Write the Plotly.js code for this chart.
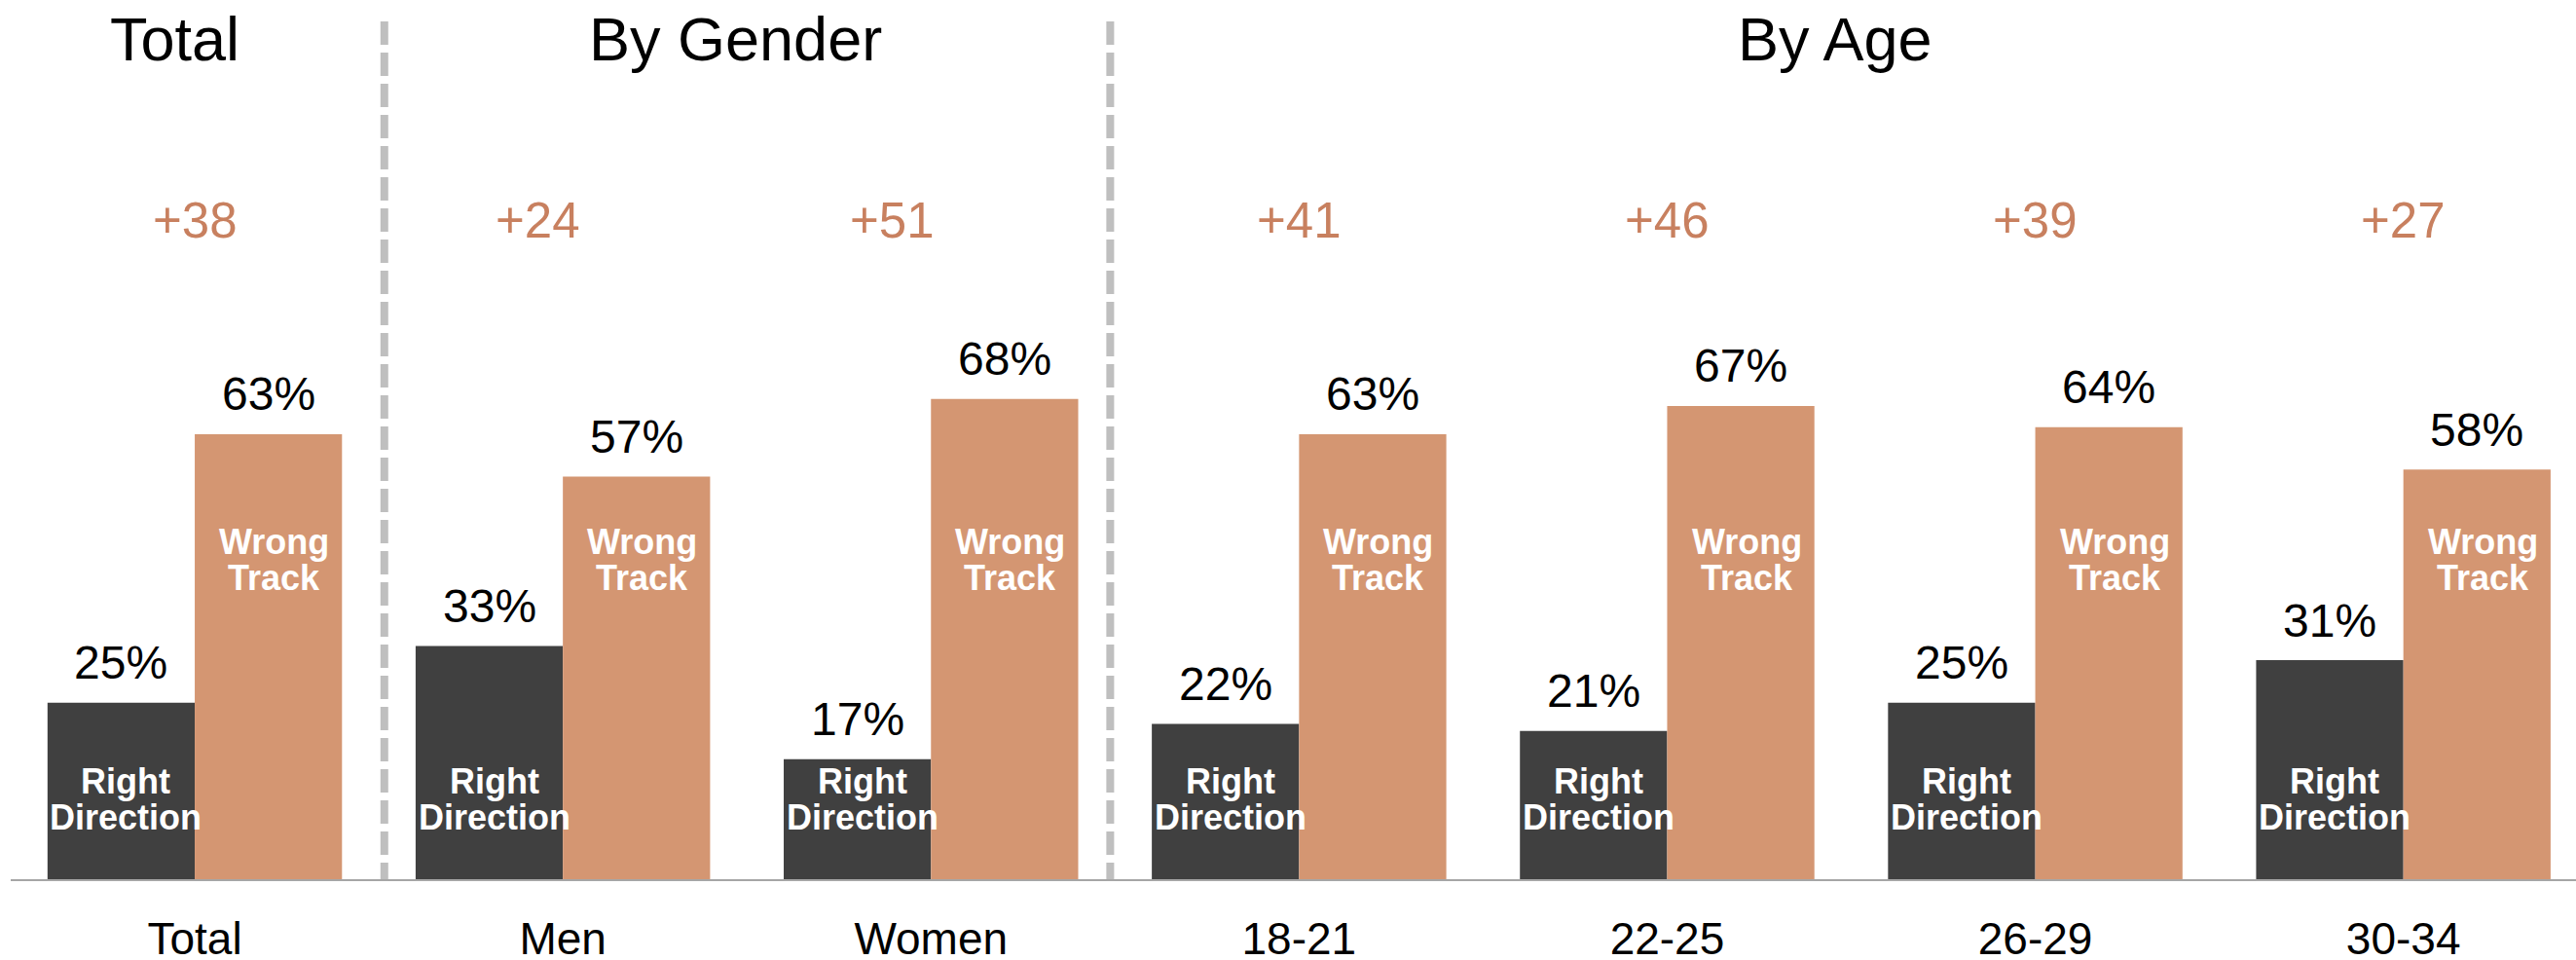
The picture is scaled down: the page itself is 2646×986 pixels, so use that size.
<!DOCTYPE html>
<html>
<head>
<meta charset="utf-8">
<script src="https://cdn.plot.ly/plotly-3.0.1.min.js"></script>
<style>
html, body { margin: 0; padding: 0; background: #ffffff; }
#chart { width: 2646px; height: 986px; }
</style>
</head>
<body>
<div id="chart"></div>
<script>
// ---- data ----
const categories = ['Total', 'Men', 'Women', '18-21', '22-25', '26-29', '30-34'];
const rightDirection = [25, 33, 17, 22, 21, 25, 31];
const wrongTrack = [63, 57, 68, 63, 67, 64, 58];
const netLabels = ['+38', '+24', '+51', '+41', '+46', '+39', '+27'];
const groupTitles = ['Total', 'By Gender', 'By Age'];
const seriesNames = ['Right Direction', 'Wrong Track'];

// ---- style ----
const FONT = 'Liberation Sans, Arial, Helvetica, sans-serif';
const RD_COLOR = '#404040';
const WT_COLOR = '#D49672';
const NET_COLOR = '#C8805F';

const traces = [
  {
    type: 'bar', name: seriesNames[0], x: categories, y: rightDirection,
    marker: { color: RD_COLOR, line: { width: 0 } }, hoverinfo: 'skip'
  },
  {
    type: 'bar', name: seriesNames[1], x: categories, y: wrongTrack,
    marker: { color: WT_COLOR, line: { width: 0 } }, hoverinfo: 'skip'
  }
];

const annotations = [];
const OFF = 0.2; // half of bar-group offset (bargap 0.2, 2 bars)

// value labels above bars
categories.forEach((c, i) => {
  annotations.push({
    x: i - OFF, y: rightDirection[i], xref: 'x', yref: 'y',
    text: rightDirection[i] + '%', showarrow: false,
    yanchor: 'middle', yshift: 41,
    font: { family: FONT, size: 48, color: '#000000' }
  });
  annotations.push({
    x: i + OFF, y: wrongTrack[i], xref: 'x', yref: 'y',
    text: wrongTrack[i] + '%', showarrow: false,
    yanchor: 'middle', yshift: 41,
    font: { family: FONT, size: 48, color: '#000000' }
  });
});

// inner series labels
const rdWords = seriesNames[0].split(' ');
const wtWords = seriesNames[1].split(' ');
const rdLineY = [13.9, 8.7];
const wtLineY = [47.7, 42.6];
categories.forEach((c, i) => {
  rdWords.forEach((w, k) => annotations.push({
    x: i - OFF, y: rdLineY[k], xref: 'x', yref: 'y', xshift: 5,
    text: '<b>' + w + '</b>', showarrow: false, yanchor: 'middle',
    font: { family: FONT, size: 36, color: '#ffffff' }
  }));
  wtWords.forEach((w, k) => annotations.push({
    x: i + OFF, y: wtLineY[k], xref: 'x', yref: 'y', xshift: 6,
    text: '<b>' + w + '</b>', showarrow: false, yanchor: 'middle',
    font: { family: FONT, size: 36, color: '#ffffff' }
  }));
});

// net difference labels
const netShift = [0, -26, -40, 0, 0, 0, 0];
categories.forEach((c, i) => {
  annotations.push({
    x: i, y: 0.7497, xref: 'x', yref: 'paper', xshift: netShift[i],
    text: netLabels[i], showarrow: false, yanchor: 'middle',
    font: { family: FONT, size: 51, color: NET_COLOR }
  });
});

// group titles
const titleX = [-0.055, 1.468, 4.457];
groupTitles.forEach((t, k) => {
  annotations.push({
    x: titleX[k], y: 0.9557, xref: 'x', yref: 'paper',
    text: t, showarrow: false, yanchor: 'middle',
    font: { family: FONT, size: 63, color: '#000000' }
  });
});

// dashed separators
const sepX = [0.515, 2.487];
const shapes = sepX.map(x => ({
  type: 'line', xref: 'x', yref: 'paper',
  x0: x, x1: x, y0: 0.9756, y1: 0,
  line: { color: '#BFBFBF', width: 8, dash: '24px,8px' }
}));

const layout = {
  width: 2646, height: 986,
  margin: { l: 11, r: 0, t: 0, b: 83, pad: 0 },
  paper_bgcolor: '#ffffff', plot_bgcolor: '#ffffff',
  barmode: 'group', bargap: 0.2, bargroupgap: 0,
  showlegend: false, hovermode: false,
  font: { family: FONT, color: '#000000' },
  xaxis: {
    type: 'category', range: [-0.5, 6.469],
    showline: true, linecolor: '#A6A6A6', linewidth: 2,
    ticks: '', showgrid: false, zeroline: false,
    tickfont: { family: FONT, size: 46, color: '#000000' },
    ticklabelstandoff: 20, fixedrange: true
  },
  yaxis: {
    range: [0, 124.47], visible: false, showgrid: false, zeroline: false, fixedrange: true
  },
  annotations: annotations,
  shapes: shapes
};

Plotly.newPlot('chart', traces, layout, { staticPlot: true, displayModeBar: false });
</script>
</body>
</html>
